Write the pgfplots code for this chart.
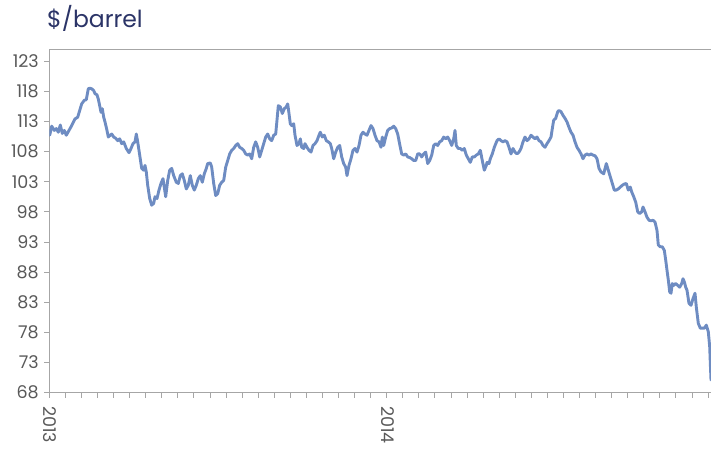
\documentclass[border=0pt]{standalone}
\usepackage{pgfplots}
\pgfplotsset{compat=1.18}
\usepackage{fontspec}
\setmainfont{Poppins}
\definecolor{linec}{HTML}{6E8CC2}
\definecolor{axisc}{HTML}{A6A6A6}
\definecolor{labelc}{HTML}{595959}
\definecolor{titlec}{HTML}{2B3467}
\begin{document}
\begin{tikzpicture}
\useasboundingbox (0,0) rectangle (711pt,455pt);
\node[anchor=base west, inner sep=0pt, text=titlec, font=\fontsize{23.5}{23.5}\selectfont] at (47pt,427pt) {\$/barrel};
\begin{axis}[
  at={(49.3pt,62.3pt)}, anchor=south west,
  scale only axis, width=661.7pt, height=343.7pt,
  xmin=0.3, xmax=662, ymin=68, ymax=125,
  axis x line=bottom, axis y line=left,
  axis line style={draw=axisc, line width=0.8pt, -},
  ytick={68,73,...,123},
  xtick={0.3,16.366,...,662},
  xticklabels={},
  extra x ticks={0.3,337.7},
  extra x tick labels={2013,2014},
  extra x tick style={xticklabel style={yshift=-5pt, xshift=1pt, rotate=-90, anchor=west, font=\fontsize{17.5}{17.5}\selectfont, text=labelc}},
  tick align=outside,
  major tick length=5pt,
  tick style={draw=axisc, line width=0.8pt},
  yticklabel style={font=\fontsize{17.5}{17.5}\selectfont, text=labelc, xshift=-2pt},
  /pgf/number format/assume math mode=true,
  /pgf/number format/1000 sep={},
]
\draw[axisc, line width=0.8pt] (rel axis cs:0,1) -- (rel axis cs:1,1);
\addplot[linec, line width=2.9pt, line join=round, line cap=round] coordinates {
(0.7,110.7)(2.7,112.2)(5.3,111.5)(7.3,111.8)(9.3,111.2)(11.3,112.4)(13.3,111.0)(15.3,111.5)(17.3,110.7)(20,111.5)
(22.7,112.3)(26,113.4)(28.7,113.7)(30.7,114.8)(32.7,115.9)(35.3,116.5)(37.3,116.6)(39.3,118.4)(40.7,118.5)(42.7,118.4)
(44.7,118.1)(46,117.6)(48,117.4)(49.3,116.7)(50.7,115.6)(52,114.5)(53.3,115.1)(54.7,113.7)(56,112.9)(58,111.5)
(59.3,110.4)(61.3,110.7)(62.7,110.9)(64.7,110.4)(66.7,110.2)(68.7,109.8)(70.7,110.1)(72.7,109.3)(74.7,109.6)(77.3,108.5)
(80,107.8)(82,108.5)(84,109.3)(86,109.6)(87.3,110.9)(88.7,109.6)(90.7,107.4)(92.7,105.2)(94.7,104.9)(96,105.7)
(97.3,104.6)(98.7,102.4)(100.7,100.2)(102.7,99.1)(104.7,99.4)(106,100.5)(108,100.2)(110,101.6)(112,102.7)(114,103.5)
(116.7,100.5)(118.7,103.2)(120.7,104.9)(122.7,105.2)(124.7,104.0)(127.3,102.9)(129.3,102.7)(131.3,104.0)(133.3,104.3)(135.3,103.2)
(137.3,101.8)(139.3,102.4)(141.3,104.0)(143.3,102.4)(145.3,101.6)(147.3,102.4)(149.3,103.5)(151.3,104.0)(153.3,102.9)(155.3,104.3)
(157.3,105.2)(158.7,106.0)(161.3,106.1)(162.7,105.4)(164.7,102.7)(166.7,100.7)(168.7,101.0)(170.7,102.4)(172.7,102.9)(174.7,103.2)
(176.7,105.4)(178.7,106.5)(180.7,107.6)(182.7,108.2)(184.7,108.5)(186.7,109.0)(188.7,109.3)(190.7,108.7)(192.7,108.5)(194.7,108.2)
(196.7,107.6)(198.7,107.4)(200.7,107.6)(202.7,106.8)(204.7,108.7)(206.7,109.6)(208.7,108.7)(210.7,107.1)(212.7,108.2)(214.7,109.3)
(216.7,110.4)(218.7,110.9)(220.7,110.1)(222.7,109.8)(224.7,110.7)(226.7,110.9)(228,113.2)(229.3,115.6)(231.3,115.4)(233.3,114.3)
(235.3,115.1)(237.3,115.4)(238.7,115.9)(240,114.3)(241.3,112.6)(242.7,112.3)(244.7,112.6)(246,110.7)(248,109.0)(250,109.3)
(251.3,110.1)(252.7,108.7)(254.7,108.5)(256,109.3)(258,108.7)(260,108.2)(262,107.9)(264,109.0)(266,109.3)(268,109.8)
(270,110.7)(271.3,111.2)(273.3,110.4)(275.3,110.7)(277.3,109.8)(279.3,109.6)(281.3,109.3)(282.7,108.5)(284.7,106.8)(286.7,107.9)
(288.7,108.7)(290.7,109.0)(292.7,107.1)(294.7,106.0)(296.7,105.4)(298,104.0)(300,105.7)(302,106.8)(304,108.2)(306,108.5)
(308,107.9)(310,109.0)(312,110.7)(314,111.2)(316,110.9)(318,110.7)(320,111.5)(322,112.3)(324,111.8)(326,110.7)
(328,109.8)(330,109.6)(332,108.7)(333.3,110.4)(334.7,109.0)(336.7,110.4)(338.7,111.5)(340.7,111.8)(342.7,111.9)(344.7,112.2)
(346.7,111.8)(348.7,110.9)(350,109.8)(351.3,108.7)(352.7,107.6)(354.7,107.4)(356.7,107.6)(358.7,107.1)(360.7,107.0)(362.7,106.8)
(364.7,106.5)(366.7,106.5)(368.7,107.6)(370.7,107.6)(372.7,107.1)(374.7,107.6)(376.7,107.9)(378.7,106.0)(380.7,106.5)(382.7,107.4)
(384.7,109.0)(386.7,109.3)(388.7,109.0)(390.7,109.6)(392.7,109.8)(394.7,110.4)(396.7,110.1)(398.7,110.4)(400.7,109.8)(402.7,109.0)
(404.7,110.1)(406,111.5)(407.3,109.0)(409.3,108.5)(411.3,108.5)(413.3,108.2)(415.3,108.5)(417.3,107.4)(419.3,106.8)(421.3,106.2)
(423.3,107.1)(425.3,107.1)(427.3,107.4)(429.3,107.6)(431.3,108.2)(433.3,106.5)(435.3,104.9)(437.3,105.7)(438,106.2)(440,106.0)
(441.3,106.8)(443.3,107.6)(445.3,108.7)(448,109.8)(450,110.1)(452,109.8)(454,109.6)(456,109.8)(458,109.6)(460,108.7)
(462,107.6)(464,108.5)(466,107.9)(468,107.6)(470,107.9)(472,108.5)(474,109.6)(476,110.4)(478,109.8)(480,110.1)
(482,110.7)(484,110.4)(486,110.1)(488,110.4)(490,109.8)(492,109.6)(494,109.0)(496,108.7)(498,109.3)(500,109.8)
(502,110.4)(503.3,111.8)(504.7,113.2)(506.7,113.5)(508.7,114.6)(510,114.8)(512,114.6)(514,114.0)(516,113.5)(518,112.9)
(520,112.0)(522,111.2)(524,110.7)(526,109.6)(528,108.7)(530,108.2)(532,107.6)(534,106.8)(536,107.4)(538,107.6)
(540,107.4)(542,107.6)(544,107.4)(546,107.3)(548,106.8)(550,105.2)(552,104.6)(554.7,104.3)(557.3,106.0)(559.3,104.9)
(561.3,103.8)(563.3,102.7)(565.3,101.6)(567.3,101.6)(569.3,101.8)(571.3,102.1)(573.3,102.4)(575.3,102.6)(577.3,102.7)(579.3,101.6)
(581.3,102.1)(582.7,101.3)(584.7,100.5)(586.7,99.6)(588.7,98.0)(590.7,97.7)(592.7,98.0)(594,98.8)(596,98.0)(598,97.1)
(600,96.6)(602,96.5)(604,96.6)(606,96.3)(608,94.9)(609.3,92.5)(611.3,92.2)(613.3,92.2)(615.3,91.6)(616.7,90.0)
(618,88.3)(619.3,86.7)(620.7,84.7)(622,84.5)(623.3,86.1)(624.7,85.8)(626.7,86.1)(628.7,85.8)(630.7,85.5)(632.7,86.1)
(634,86.9)(635.3,86.4)(636.7,85.5)(638,85.0)(640,82.8)(642,82.5)(644,83.6)(646,84.5)(647.3,82.2)(649.3,79.5)
(651.3,78.7)(653.3,78.7)(655.3,78.7)(657.3,79.2)(659.3,78.1)(660.7,75.6)(661.3,72.9)(662,70.1)
};
\end{axis}
\end{tikzpicture}
\end{document}
